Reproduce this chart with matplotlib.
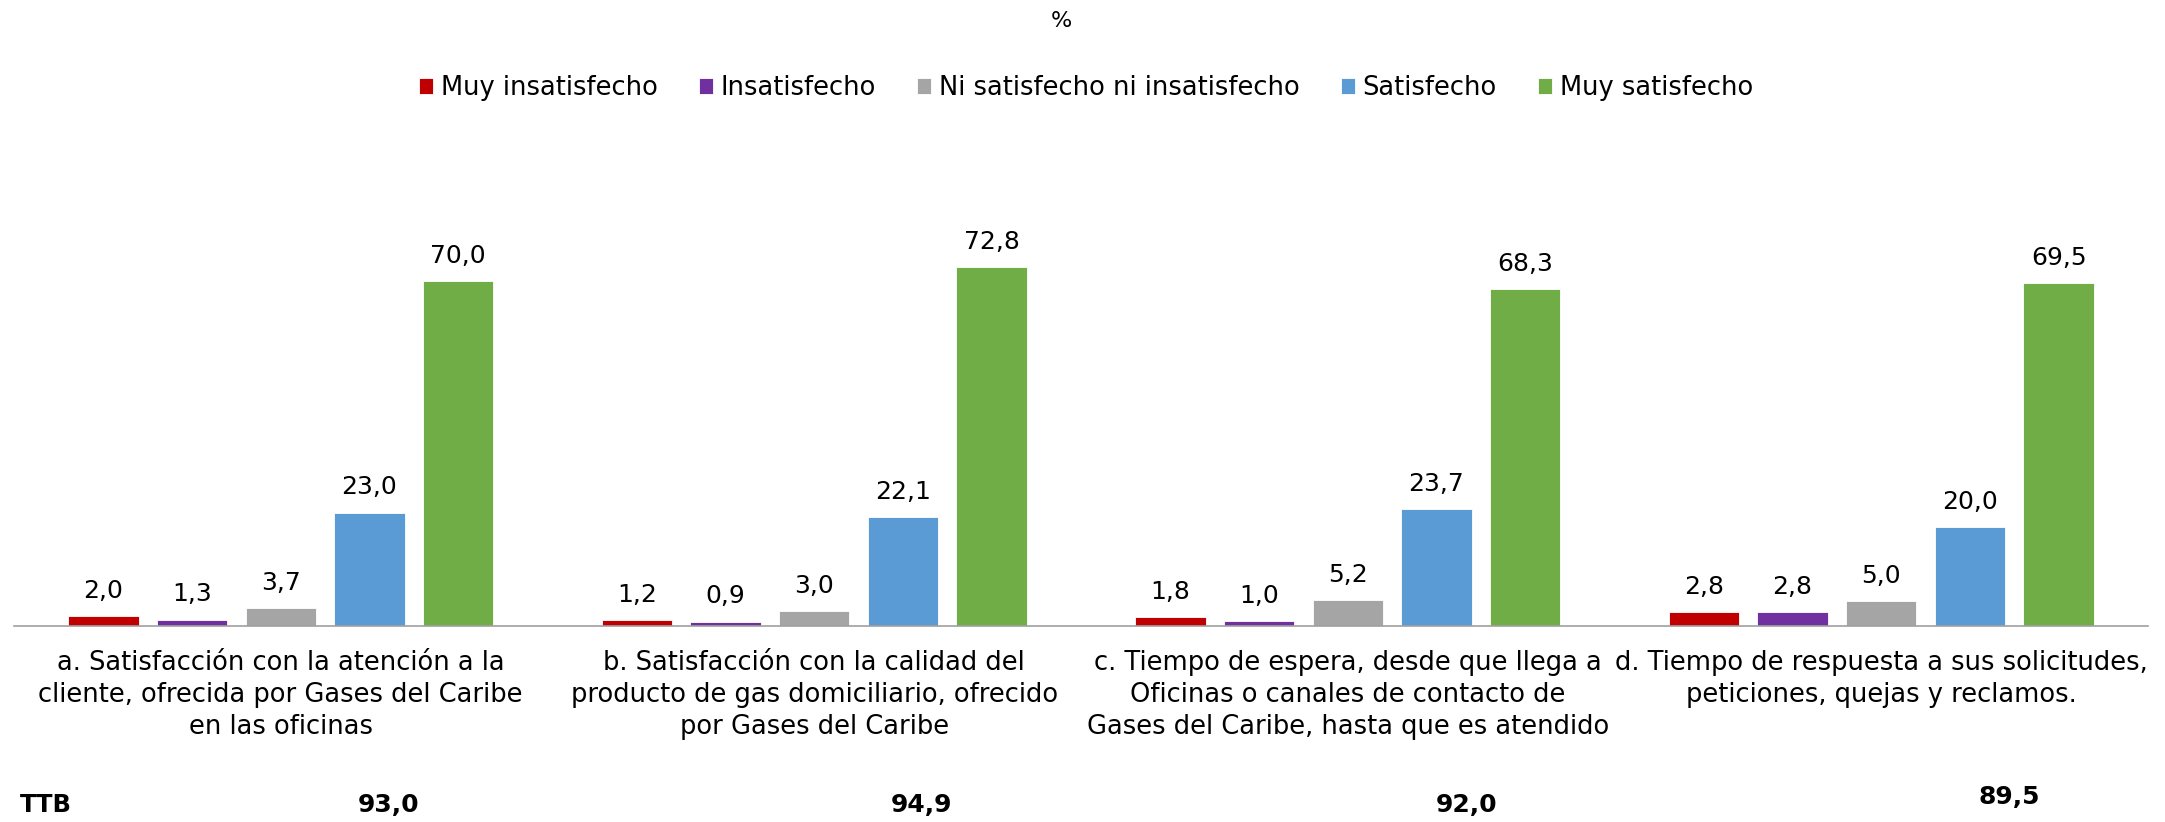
import matplotlib
matplotlib.use("Agg")
import matplotlib.pyplot as plt
import numpy as np

categories = [
    "a. Satisfacción con la atención a la\ncliente, ofrecida por Gases del Caribe\nen las oficinas",
    "b. Satisfacción con la calidad del\nproducto de gas domiciliario, ofrecido\npor Gases del Caribe",
    "c. Tiempo de espera, desde que llega a\nOficinas o canales de contacto de\nGases del Caribe, hasta que es atendido",
    "d. Tiempo de respuesta a sus solicitudes,\npeticiones, quejas y reclamos.",
]
series_names = ["Muy insatisfecho", "Insatisfecho", "Ni satisfecho ni insatisfecho",
                "Satisfecho", "Muy satisfecho"]
muy_insatisfecho = [2.0, 1.2, 1.8, 2.8]
insatisfecho = [1.3, 0.9, 1.0, 2.8]
ni_ni = [3.7, 3.0, 5.2, 5.0]
satisfecho = [23.0, 22.1, 23.7, 20.0]
muy_satisfecho = [70.0, 72.8, 68.3, 69.5]
ttb = ["93,0", "94,9", "92,0", "89,5"]

colors = ["#C00000", "#7030A0", "#A5A5A5", "#5B9BD5", "#70AD47"]
series = [muy_insatisfecho, insatisfecho, ni_ni, satisfecho, muy_satisfecho]

plt.rcParams['font.family'] = ['DejaVu Sans']

W, H = 2165, 822
fig = plt.figure(figsize=(W / 100, H / 100), dpi=100)
ax_left, ax_right = 14 / W, 2148 / W
ax_bottom = (H - 626) / H
ymax = 80
ax_h = ymax * 4.93 / H
ax = fig.add_axes([ax_left, ax_bottom, ax_right - ax_left, ax_h])

x = np.arange(len(categories))
pitch = 0.1663
bw = 0.132
for j, (vals, c, name) in enumerate(zip(series, colors, series_names)):
    pos = x + (j - 2) * pitch
    bars = ax.bar(pos, vals, width=bw, color=c, label=name, edgecolor='white', linewidth=0.6)
    for b, v in zip(bars, vals):
        ax.annotate(f"{v:.1f}".replace(".", ","), (b.get_x() + b.get_width() / 2, v),
                    xytext=(0, 9.5), textcoords="offset points", ha="center", va="bottom",
                    fontsize=18, color="#000000")

ax.set_xlim(-0.5, 3.5)
ax.set_ylim(0, ymax)
for s in ["top", "right", "left"]:
    ax.spines[s].set_visible(False)
ax.spines["bottom"].set_color("#A0A0A0")
ax.spines["bottom"].set_linewidth(1.2)
ax.set_yticks([])
ax.set_xticks(x)
ax.set_xticklabels(categories, fontsize=18.5, linespacing=1.3)
ax.tick_params(axis='x', length=0, pad=17)

fig.text(1061 / W, 1 - 21 / H, "%", ha="center", va="center", fontsize=16)

handles, labels = ax.get_legend_handles_labels()
fig.legend(handles, labels, loc="center", bbox_to_anchor=(1086 / W, 1 - 88 / H), ncol=5,
           frameon=False, fontsize=18.5, handlelength=0.55, handleheight=0.55,
           handletextpad=0.3, columnspacing=1.6)

fig.text(46 / W, 1 - 805 / H, "TTB", ha="center", va="center", fontsize=17.5, fontweight="bold")
ttb_x = [389, 922, 1467, 2009]
ttb_y = [805, 805, 805, 797]
for t, xx, yy in zip(ttb, ttb_x, ttb_y):
    fig.text(xx / W, 1 - yy / H, t, ha="center", va="center", fontsize=18, fontweight="bold")

fig.savefig("out.png", dpi=100, facecolor="white")
